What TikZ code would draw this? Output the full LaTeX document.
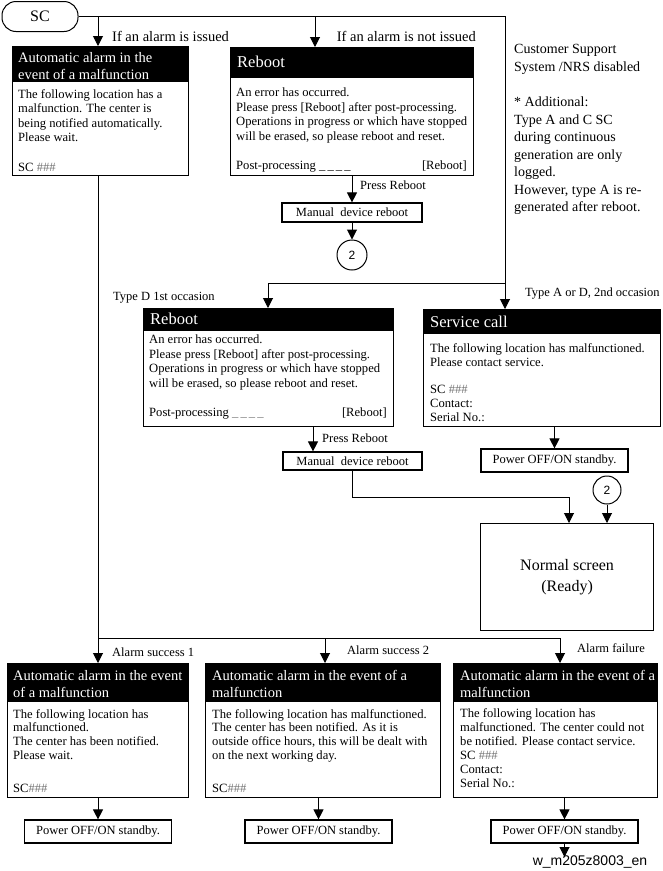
\documentclass[tikz,border=0pt]{standalone}
\usepackage{fontspec}
\setmainfont{Liberation Serif}
\newfontfamily\arialf{Liberation Sans}
\usetikzlibrary{arrows.meta}
\newcommand{\fBody}{\fontsize{12.6}{14.4}\selectfont}
\newcommand{\fHead}{\fontsize{14.5}{17}\selectfont}
\newcommand{\fTitle}{\fontsize{16.5}{20}\selectfont}
\newcommand{\fLab}{\fontsize{12.5}{15}\selectfont}
\newcommand{\fBig}{\fontsize{14.5}{17}\selectfont}
\newcommand{\fNote}{\fontsize{14}{17.5}\selectfont}
\newcommand{\gh}{\textcolor{black!55}{\#\#\#}}
\newcommand{\gu}{\textcolor{black!55}{\_\,\_\,\_\,\_}}
\begin{document}
\begin{tikzpicture}[x=1pt,y=-1pt,
  arr/.style={line width=1pt,-{Triangle[length=10pt,width=10pt]}},
  conn/.style={line width=1pt},
  box/.style={draw,line width=1.2pt,inner sep=0,anchor=north west},
  sbox/.style={draw,line width=1.2pt,inner sep=0,minimum height=23pt,minimum width=147pt,font=\fLab},
  htext/.style={anchor=north west,inner sep=0,text=white,align=left,font=\fHead},
  ttext/.style={anchor=north west,inner sep=0,text=white,align=left,font=\fTitle},
  btext/.style={anchor=north west,inner sep=0,align=left,font=\fBody},
  rtext/.style={anchor=north east,inner sep=0,font=\fBody},
  lab/.style={anchor=west,inner sep=0,font=\fLab},
  circ/.style={circle,draw,line width=1pt,inner sep=0,font=\arialf\fontsize{12}{12}\selectfont}]
\path[fill=white] (0,0) rectangle (662,871);
\useasboundingbox (0,0) rectangle (662,871);

% headers
\fill (12,46) rectangle (188,82);
\fill (230,47) rectangle (473,78);
\fill (143,308) rectangle (393,331);
\fill (423,309) rectangle (660,334);
\fill (7,663) rectangle (188,702);
\fill (205,663) rectangle (440,702);
\fill (453,663) rectangle (657,702);

% start
\node[draw,line width=1pt,rounded corners=14pt,minimum width=76pt,minimum height=30pt,font=\fontsize{16}{16}\selectfont] (sc) at (40,16.5) {SC};

% boxes
\node[box,minimum width=176pt,minimum height=129pt] (box1) at (12,46) {};
\node[box,minimum width=243pt,minimum height=128pt] (reb1) at (230,47) {};
\node[box,minimum width=250pt,minimum height=118pt] (reb2) at (143,308) {};
\node[box,minimum width=237pt,minimum height=117pt] (svc) at (423,309) {};
\node[box,minimum width=181pt,minimum height=134pt] (b1) at (7,663) {};
\node[box,minimum width=235pt,minimum height=134pt] (b2) at (205,663) {};
\node[box,minimum width=204pt,minimum height=134pt] (b3) at (453,663) {};
\node[box,minimum width=173pt,minimum height=107pt,align=center,font=\fontsize{16}{21}\selectfont] (normal) at (480,523) {Normal screen\\(Ready)};

\node[sbox,minimum width=140pt,minimum height=19pt] (man1) at (352,212.5) {Manual\ \ device reboot};
\node[sbox,minimum width=139pt,minimum height=18pt] (man2) at (352.5,461) {Manual\ \ device reboot};
\node[sbox] (pw1) at (554.5,460.5) {Power OFF/ON standby.\hspace{9pt}};
\node[sbox] (pwb1) at (98,831.5) {Power OFF/ON standby.\hspace{9pt}};
\node[sbox] (pwb2) at (318.5,831.5) {Power OFF/ON standby.\hspace{9pt}};
\node[sbox] (pwb3) at (564.5,831.5) {Power OFF/ON standby.\hspace{9pt}};

\node[circ,minimum size=30pt] (c1) at (352,255) {2};
\node[circ,minimum size=28pt] (c2) at (607,490) {2};

% header texts
\node[htext] (box1h) at (18,52) {Automatic alarm in the\\event of a malfunction};
\node[ttext] (reb1h) at (237,56) {Reboot};
\node[ttext] (reb2h) at (150,313) {Reboot};
\node[ttext] (svch) at (430,316) {Service call};
\node[htext] (b1h) at (13,670) {Automatic alarm in the event\\of a malfunction};
\node[htext] (b2h) at (212,670) {Automatic alarm in the event of a\\malfunction};
\node[htext] (b3h) at (460,670) {Automatic alarm in the event of a\\malfunction};

% body texts
\node[btext,font=\fontsize{12.6}{14.6}\selectfont] (box1t) at (18,89) {The following location has a\\malfunction. The center is\\being notified automatically.\\Please wait.\\[14.6pt]SC \gh};
\node[btext] (reb1t) at (236,88) {An error has occurred.\\Please press [Reboot] after post-processing.\\Operations in progress or which have stopped\\will be erased, so please reboot and reset.\\[15.4pt]Post-processing \_\,\_\,\_\,\_};
\node[rtext] (reb1r) at (467,161) {[Reboot]};
\node[btext] (reb2t) at (149,335) {An error has occurred.\\Please press [Reboot] after post-processing.\\Operations in progress or which have stopped\\will be erased, so please reboot and reset.\\[15.4pt]Post-processing \gu};
\node[rtext] (reb2r) at (387,408) {[Reboot]};
\node[btext,font=\fontsize{12.6}{14}\selectfont] (svct) at (430,343) {The following location has malfunctioned.\\Please contact service.\\[13pt]SC \gh\\Contact:\\Serial No.:};
\node[btext,font=\fontsize{12.6}{13.8}\selectfont] (b1t) at (13,709) {The following location has\\malfunctioned.\\The center has been notified.\\Please wait.\\[18.8pt]SC\gh};
\node[btext,font=\fontsize{12.6}{13.8}\selectfont] (b2t) at (212,709) {The following location has malfunctioned.\\The center has been notified. As it is\\outside office hours, this will be dealt with\\on the next working day.\\[18.8pt]SC\gh};
\node[btext,font=\fontsize{12.6}{14}\selectfont] (b3t) at (460,708) {The following location has\\malfunctioned. The center could not\\be notified. Please contact service.\\SC \gh\\Contact:\\Serial No.:};

% side note
\node[btext,font=\fNote] (note) at (514,44.5) {Customer Support\\System /NRS disabled\\[18pt]* Additional:\\Type A and C SC\\during continuous\\generation are only\\logged.\\However, type A is re-\\generated after reboot.};

% labels
\node[lab,font=\fBig] (l1) at (112,36) {If an alarm is issued};
\node[lab,font=\fBig,anchor=east] (l2) at (476,36) {If an alarm is not issued};
\node[lab] (l3) at (360,185) {Press Reboot};
\node[lab] (l4) at (113,298) {Type D 1st occasion};
\node[lab] (l5) at (525,294) {Type A or D, 2nd occasion};
\node[lab] (l6) at (322,438) {Press Reboot};
\node[lab] (l7) at (112,652) {Alarm success 1};
\node[lab] (l8) at (347,650) {Alarm success 2};
\node[lab] (l9) at (577,648) {Alarm failure};
\node[inner sep=0,font=\arialf\fontsize{14}{14}\selectfont] (foot) at (590,862) {w\_m205z8003\_en};

% junction coordinates
\coordinate (tA) at (98,16.5);
\coordinate (tB) at (315,16.5);
\coordinate (jR) at (505,16.5);
\coordinate (jM) at (505,283);
\coordinate (jL) at (268,283);
\coordinate (pr2) at (313,426);
\coordinate (kN) at (569,497);
\coordinate (jB1) at (98,638);
\coordinate (jB2) at (325,638);
\coordinate (jB3) at (560,638);
\coordinate (fin) at (564.5,857);

% connectors
\draw[arr] (sc.east) -- (jR) -- (jR |- svc.north);
\draw[arr] (tA) -- (tA |- box1.north);
\draw[arr] (tB) -- (tB |- reb1.north);
\draw[arr] (jM) -- (jL) -- (jL |- reb2.north);
\draw[arr] (man1.north |- reb1.south) -- (man1.north);
\draw[arr] (man1.south) -- (c1.north);
\draw[arr] (pr2) -- (pr2 |- man2.north);
\draw[arr] (man2.south) |- (kN) -- (kN |- normal.north);
\draw[arr] (pw1.north |- svc.south) -- (pw1.north);
\draw[arr] (c2.south) -- (c2.south |- normal.north);
\draw[conn] (tA |- box1.south) -- (jB1) -- (jB3);
\draw[arr] (jB1) -- (jB1 |- b1.north);
\draw[arr] (jB2) -- (jB2 |- b2.north);
\draw[arr] (jB3) -- (jB3 |- b3.north);
\draw[arr] (pwb1.north |- b1.south) -- (pwb1.north);
\draw[arr] (pwb2.north |- b2.south) -- (pwb2.north);
\draw[arr] (pwb3.north |- b3.south) -- (pwb3.north);
\draw[arr] (pwb3.south) -- (fin);
\end{tikzpicture}
\end{document}
